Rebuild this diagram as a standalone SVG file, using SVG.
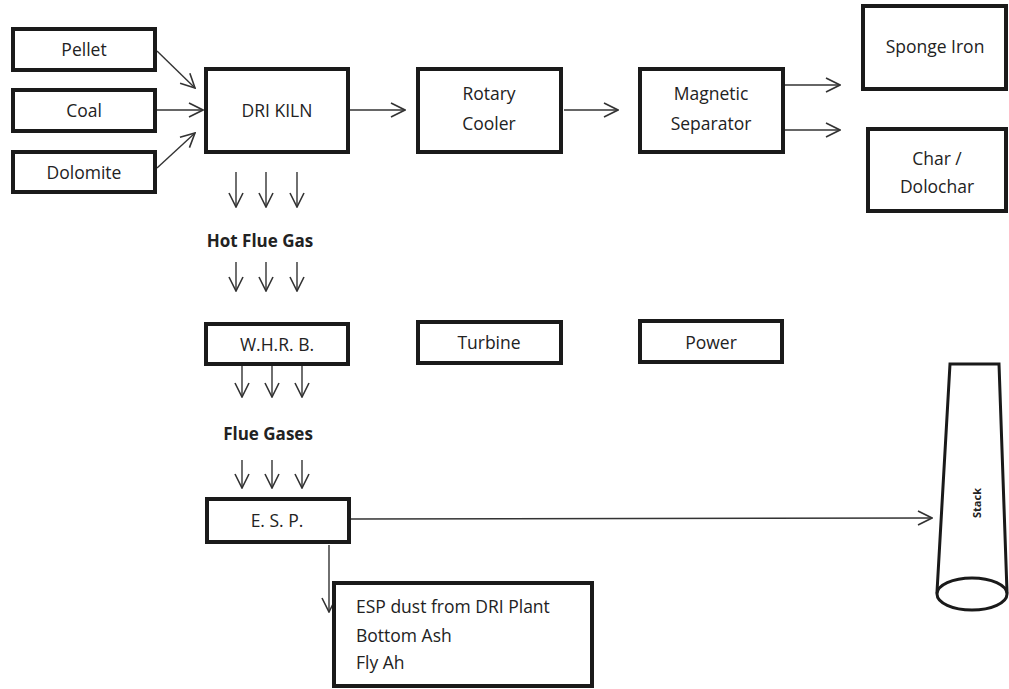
<svg xmlns="http://www.w3.org/2000/svg" width="1009" height="689" viewBox="0 0 1009 689">
<style>
.box{fill:#fff;stroke:#1a1a1a;stroke-width:4}
.t{font-family:"Open Sans","Liberation Sans",sans-serif;font-size:17.5px;fill:#222;text-anchor:middle}
.s{text-anchor:start}
.b{font-weight:bold;font-size:17px}
.c{fill:none;stroke:#333;stroke-width:1.4}
</style>
<defs>
<marker id="ahL" viewBox="0 0 16 16" refX="15" refY="8" markerWidth="16" markerHeight="16" markerUnits="userSpaceOnUse" orient="auto">
<path d="M1,1 L15,8 L1,15" fill="none" stroke="#333" stroke-width="1.6"/>
</marker>
</defs>
<rect width="1009" height="689" fill="#fff"/>
<g id="connectors">
<path class="c" d="M157,51 L195,88" marker-end="url(#ahL)"/>
<path class="c" d="M157,110 L203,110" marker-end="url(#ahL)"/>
<path class="c" d="M157,168 L195,133" marker-end="url(#ahL)"/>
<path class="c" d="M350,110 L405,110" marker-end="url(#ahL)"/>
<path class="c" d="M564,110 L618,110" marker-end="url(#ahL)"/>
<path class="c" d="M785,85 L840,85" marker-end="url(#ahL)"/>
<path class="c" d="M785,130 L840,130" marker-end="url(#ahL)"/>
<path class="c" d="M236,172 L236,207" marker-end="url(#ahL)"/>
<path class="c" d="M266,172 L266,207" marker-end="url(#ahL)"/>
<path class="c" d="M297,172 L297,207" marker-end="url(#ahL)"/>
<path class="c" d="M236,262 L236,291" marker-end="url(#ahL)"/>
<path class="c" d="M266,262 L266,291" marker-end="url(#ahL)"/>
<path class="c" d="M297,262 L297,291" marker-end="url(#ahL)"/>
<path class="c" d="M242,365 L242,397" marker-end="url(#ahL)"/>
<path class="c" d="M272,365 L272,397" marker-end="url(#ahL)"/>
<path class="c" d="M302,365 L302,397" marker-end="url(#ahL)"/>
<path class="c" d="M242,460 L242,488" marker-end="url(#ahL)"/>
<path class="c" d="M272,460 L272,488" marker-end="url(#ahL)"/>
<path class="c" d="M302,460 L302,488" marker-end="url(#ahL)"/>
<path class="c" d="M351,519 L932,518" marker-end="url(#ahL)"/>
<path class="c" d="M329,545 L329,612" marker-end="url(#ahL)"/>
</g>
<g id="pellet"><rect class="box" x="13" y="29" width="142" height="41"/><text class="t" x="84" y="56">Pellet</text></g>
<g id="coal"><rect class="box" x="13" y="90" width="142" height="41"/><text class="t" x="84" y="117">Coal</text></g>
<g id="dolomite"><rect class="box" x="13" y="152" width="142" height="40"/><text class="t" x="84" y="179">Dolomite</text></g>
<g id="dri-kiln"><rect class="box" x="206" y="69" width="142" height="83"/><text class="t" x="277" y="117">DRI KILN</text></g>
<g id="rotary-cooler"><rect class="box" x="418" y="69" width="143" height="83"/><text class="t" x="489" y="100">Rotary</text><text class="t" x="489" y="130">Cooler</text></g>
<g id="magnetic-separator"><rect class="box" x="640" y="69" width="143" height="83"/><text class="t" x="711" y="100">Magnetic</text><text class="t" x="711" y="130">Separator</text></g>
<g id="sponge-iron"><rect class="box" x="863" y="6" width="143" height="83"/><text class="t" x="935" y="53">Sponge Iron</text></g>
<g id="char"><rect class="box" x="868" y="129" width="138" height="82"/><text class="t" x="937" y="165">Char /</text><text class="t" x="937" y="193">Dolochar</text></g>
<g id="hot-flue-gas"><text class="t b" x="260" y="247">Hot Flue Gas</text></g>
<g id="whrb"><rect class="box" x="206" y="324" width="142" height="40"/><text class="t" x="277" y="351">W.H.R. B.</text></g>
<g id="turbine"><rect class="box" x="418" y="322" width="143" height="41"/><text class="t" x="489" y="349">Turbine</text></g>
<g id="power"><rect class="box" x="640" y="321" width="142" height="41"/><text class="t" x="711" y="349">Power</text></g>
<g id="flue-gases"><text class="t b" x="268" y="440">Flue Gases</text></g>
<g id="esp"><rect class="box" x="207" y="499" width="142" height="43"/><text class="t" x="277" y="527">E. S. P.</text></g>
<g id="esp-dust"><rect class="box" x="334" y="583" width="258" height="103"/>
<text class="t s" x="356" y="613">ESP dust from DRI Plant</text>
<text class="t s" x="356" y="642">Bottom Ash</text>
<text class="t s" x="356" y="669">Fly Ah</text></g>
<g id="stack">
<path d="M950,364 L999,364 L1007,592 L937,592 Z" fill="#fff" stroke="#1a1a1a" stroke-width="3"/>
<ellipse cx="972" cy="594" rx="35" ry="16" fill="#fff" stroke="#1a1a1a" stroke-width="3"/>
<text class="t" style="font-size:11px;font-weight:bold" transform="translate(981,503) rotate(-90)">Stack</text>
</g>
</svg>
